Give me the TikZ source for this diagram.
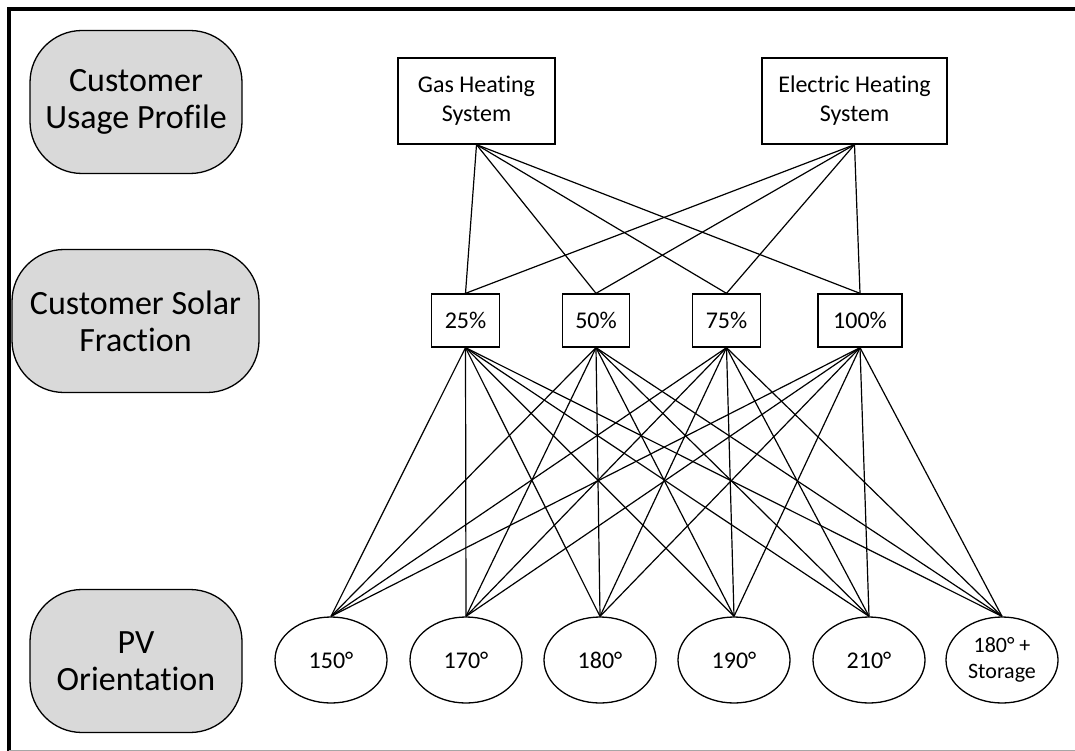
\documentclass[tikz,border=0pt]{standalone}
\usepackage{fontspec}
\setmainfont{Carlito}[Ligatures=NoCommon]
\usetikzlibrary{shapes.geometric, positioning}
\definecolor{stagegray}{RGB}{217,217,217}
\tikzset{
  stage/.style={draw, fill=stagegray, rounded corners=52pt, minimum width=212pt, minimum height=143pt, inner sep=0pt, align=center, font=\fontsize{34}{37}\selectfont, line width=1.3pt},
  heatbox/.style={draw, rectangle, minimum height=86pt, inner sep=0pt, align=center, font=\fontsize{24}{29}\selectfont, line width=1.3pt},
  fracbox/.style={draw, rectangle, minimum height=53pt, minimum width=67pt, inner xsep=13pt, font=\fontsize{24}{29}\selectfont, line width=1.3pt},
  orient/.style={draw, ellipse, minimum width=112pt, minimum height=86pt, inner sep=0pt, align=center, font=\fontsize{24}{26}\selectfont, line width=1.3pt},
  link/.style={line width=1.2pt}
}

\begin{document}
\begin{tikzpicture}[x=1pt, y=-1pt]
      \useasboundingbox (0,0) rectangle (1075,751);
      % frame
      \draw[line width=4pt] (8.5,751) -- (8.5,9.5) -- (1075,9.5);
      \draw[gray!70, line width=1pt] (8.5,750) -- (1075,750);
      % stage labels
      \node [stage] (usage) at (136,102) {Customer\\Usage Profile};
      \node [stage, minimum width=247pt] (solar) at (135.5,321) {Customer Solar\\Fraction};
      \node [stage] (pv) at (136,661) {PV\\Orientation};
      % heating systems
      \node [heatbox, minimum width=157pt] (gas) at (476.5,101) {Gas Heating\\System};
      \node [heatbox, minimum width=185pt] (elec) at (854.5,101) {Electric Heating\\System};
      % solar fractions
      \node [fracbox] (f25) at (465.5,320.5) {25\%};
      \node [fracbox] (f50) at (596,320.5) {50\%};
      \node [fracbox] (f75) at (726.5,320.5) {75\%};
      \node [fracbox, minimum width=84pt] (f100) at (860,320.5) {100\%};
      % orientations
      \node [orient] (o150) at (331,660) {150°};
      \node [orient] (o170) at (466,660) {170°};
      \node [orient] (o180) at (600,660) {180°};
      \node [orient] (o190) at (734,660) {190°};
      \node [orient] (o210) at (869,660) {210°};
      \node [orient, font=\fontsize{22}{26}\selectfont] (ostore) at (1002,660) {180° +\\Storage};
      % links
      \foreach \h in {gas, elec}
        \foreach \f in {f25, f50, f75, f100}
          \draw[link] (\h.south) -- (\f.north);
      \foreach \f in {f25, f50, f75, f100}
        \foreach \o in {o150, o170, o180, o190, o210, ostore}
          \draw[link] (\f.south) -- (\o.north);
\end{tikzpicture}
\end{document}
